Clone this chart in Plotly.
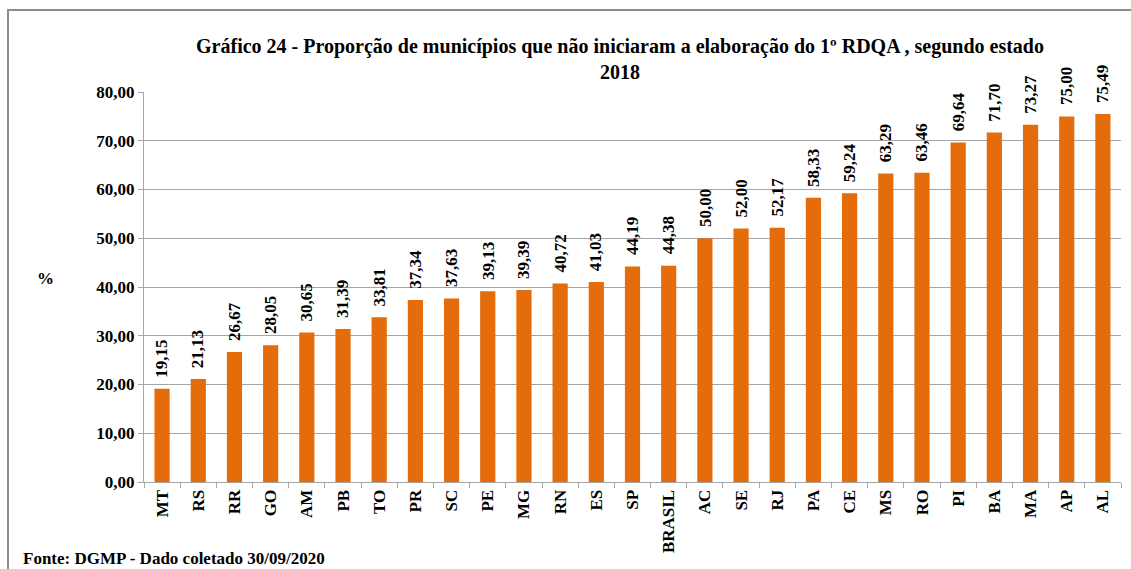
import plotly.graph_objects as go

categories = ["MT", "RS", "RR", "GO", "AM", "PB", "TO", "PR", "SC", "PE", "MG", "RN", "ES", "SP",
              "BRASIL", "AC", "SE", "RJ", "PA", "CE", "MS", "RO", "PI", "BA", "MA", "AP", "AL"]
values = [19.15, 21.13, 26.67, 28.05, 30.65, 31.39, 33.81, 37.34, 37.63, 39.13, 39.39, 40.72, 41.03, 44.19,
          44.38, 50.00, 52.00, 52.17, 58.33, 59.24, 63.29, 63.46, 69.64, 71.70, 73.27, 75.00, 75.49]
title_text = "Gráfico 24 - Proporção de municípios que não iniciaram a elaboração do 1º RDQA , segundo estado<br>2018"
source_text = "Fonte: DGMP - Dado coletado 30/09/2020"

labels = [f"{v:.2f}".replace(".", ",") for v in values]

W, H = 1131, 569
L, R, T, B = 144, 10, 92, 87
pw, ph = W - L - R, H - T - B

FONT = "Liberation Serif"
BAR = "#E46C0A"
GRID = "#A6A6A6"

fig = go.Figure(go.Bar(
    x=categories, y=values,
    marker=dict(color=BAR, line=dict(width=0)),
    hovertemplate="%{x}: %{y:.2f}<extra></extra>",
))

def px2x(p):
    return (p - L) / pw

def py2y(p):
    return 1 - (p - T) / ph

annotations = [
    dict(x=c, y=v, xref="x", yref="y", text="<b>" + t + "</b>", showarrow=False, textangle=-90,
         xanchor="center", yanchor="bottom", yshift=9,
         font=dict(family=FONT, size=17, color="black"))
    for c, v, t in zip(categories, values, labels)
]
annotations += [
    dict(text="<b>%</b>", x=px2x(45), y=py2y(278), xref="paper", yref="paper", showarrow=False,
         font=dict(family=FONT, size=17, color="black"), xanchor="center", yanchor="middle"),
    dict(text="<b>" + source_text + "</b>", x=px2x(21), y=py2y(558), xref="paper", yref="paper",
         showarrow=False, font=dict(family=FONT, size=17, color="black"), xanchor="left", yanchor="middle"),
]

fig.update_layout(
    width=W, height=H,
    margin=dict(l=L, r=R, t=T, b=B),
    paper_bgcolor="white", plot_bgcolor="white",
    bargap=0.58, separators=",.",
    showlegend=False,
    font=dict(family=FONT, color="black"),
    title=dict(text="<b>" + title_text + "</b>", x=620 / W, xanchor="center", y=1 - 53 / H, yanchor="middle",
               font=dict(family=FONT, size=20, color="black")),
    xaxis=dict(tickangle=-90, tickfont=dict(family=FONT, size=17, color="black"),
               tickprefix="<b>", ticksuffix="</b>",
               showline=True, linecolor=GRID, linewidth=1, ticks="outside", tickson="boundaries",
               ticklen=5, tickcolor=GRID, showgrid=False),
    yaxis=dict(range=[0, 80], dtick=10, tickformat=".2f", tickprefix="<b>", ticksuffix="</b>",
               showline=True, linecolor=GRID, linewidth=1,
               ticks="outside", ticklen=5, tickcolor=GRID, showgrid=True, gridcolor=GRID, gridwidth=1,
               tickfont=dict(family=FONT, size=17, color="black"), zeroline=False),
    annotations=annotations,
    shapes=[
        dict(type="rect", xref="paper", yref="paper", x0=px2x(8), x1=px2x(1140), y0=py2y(10), y1=py2y(600),
             line=dict(color="#8C8C8C", width=2), fillcolor="rgba(0,0,0,0)", layer="below"),
    ],
)

fig.write_html("out.html", config={"displayModeBar": False},
               post_script="document.body.style.margin='0px';")
